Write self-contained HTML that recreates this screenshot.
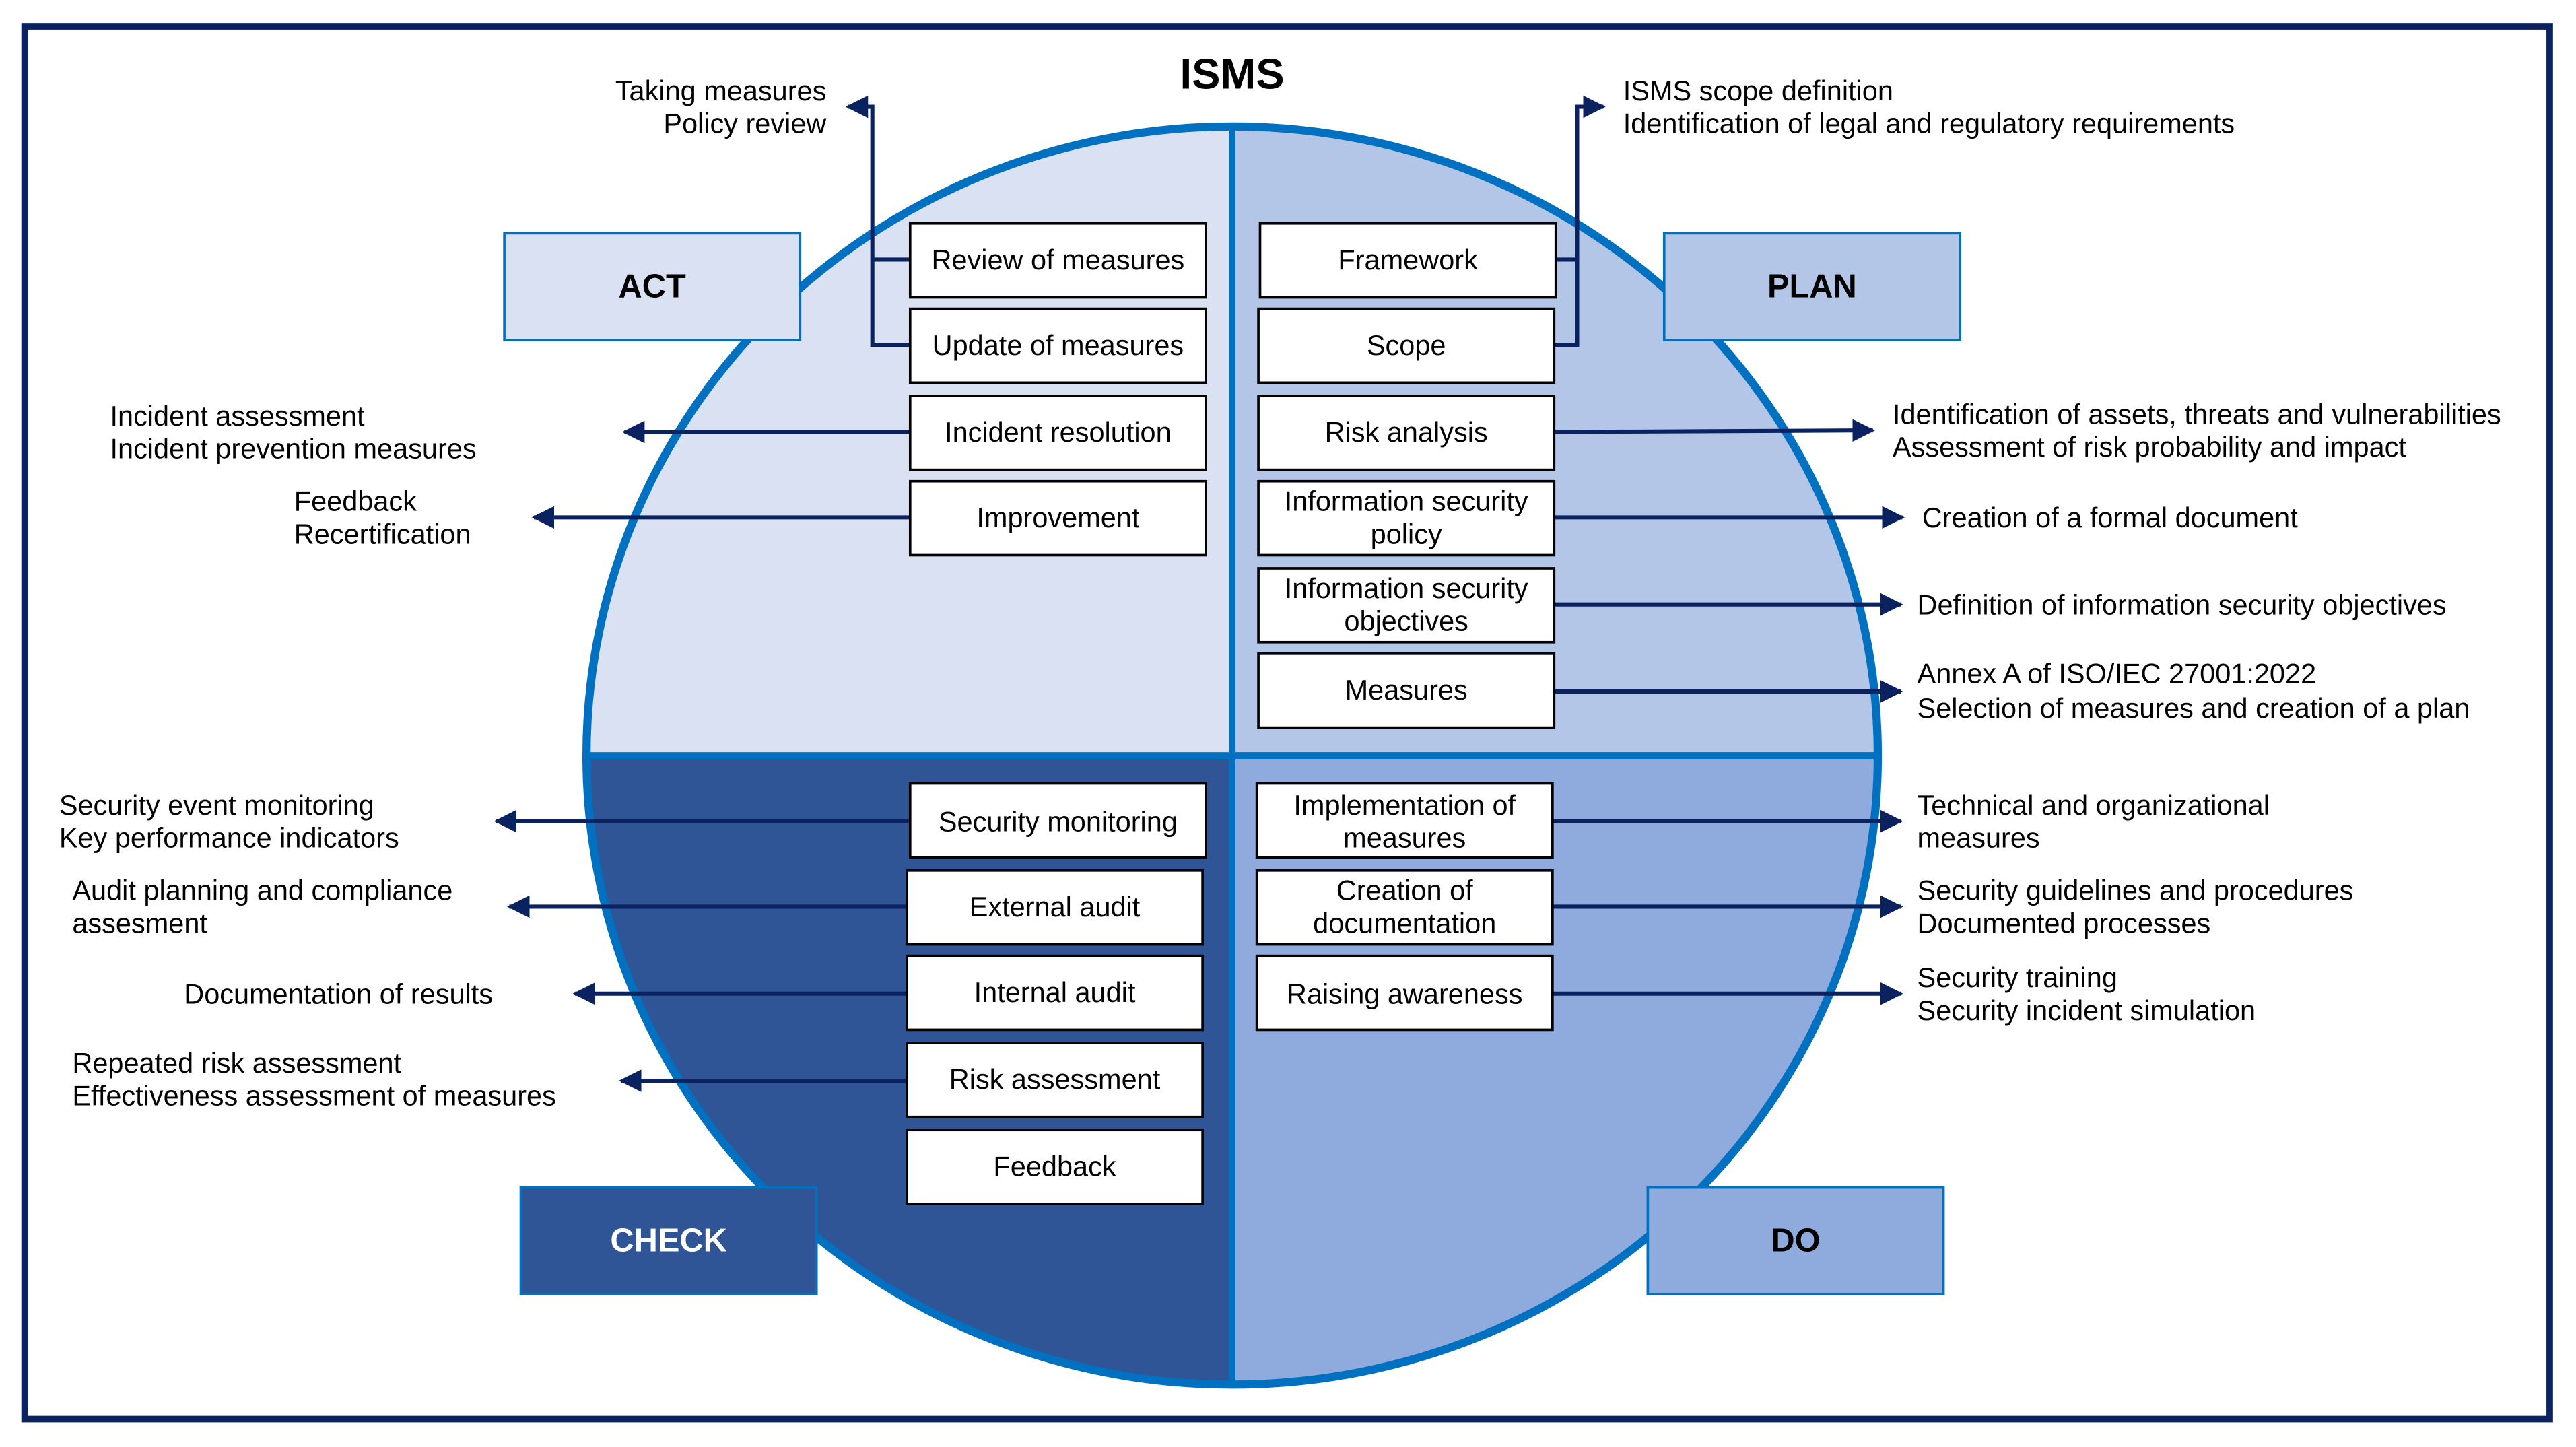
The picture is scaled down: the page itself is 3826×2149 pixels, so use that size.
<!DOCTYPE html>
<html><head><meta charset="utf-8"><style>html,body{margin:0;padding:0;background:#fff}svg{display:block}</style></head>
<body>
<svg width="3826" height="2149" viewBox="0 0 1568 881" preserveAspectRatio="none" xmlns="http://www.w3.org/2000/svg" font-family="Liberation Sans, Arial, sans-serif">
<defs>
<marker id="ar" viewBox="0 0 10 10" refX="9" refY="5" markerWidth="5.5" markerHeight="5.5" orient="auto" markerUnits="strokeWidth"><path d="M0,0 L10,5 L0,10 z" fill="#0a2360"/></marker>
<clipPath id="c"><ellipse cx="750" cy="460" rx="393" ry="383"/></clipPath>
</defs>
<rect x="0" y="0" width="1568" height="881" fill="#fff"/>
<rect x="15" y="16" width="1537" height="848" fill="none" stroke="#0a2360" stroke-width="4"/>
<g clip-path="url(#c)">
<rect x="350" y="70" width="400" height="390" fill="#dae1f3"/>
<rect x="750" y="70" width="400" height="390" fill="#b4c6e7"/>
<rect x="350" y="460" width="400" height="390" fill="#2f5597"/>
<rect x="750" y="460" width="400" height="390" fill="#8faadc"/>
</g>
<line x1="750" y1="77" x2="750" y2="843" stroke="#0070c0" stroke-width="4"/>
<line x1="357" y1="460" x2="1143" y2="460" stroke="#0070c0" stroke-width="4"/>
<ellipse cx="750" cy="460" rx="393" ry="383" fill="none" stroke="#0070c0" stroke-width="5"/>
<text x="750" y="54" font-size="26" font-weight="bold" text-anchor="middle">ISMS</text>
<g stroke="#0070c0" stroke-width="1.5">
<rect x="307" y="142" width="180" height="65" fill="#dae1f3"/>
<rect x="1013" y="142" width="180" height="65" fill="#b4c6e7"/>
<rect x="317" y="723" width="180" height="65" fill="#2f5597"/>
<rect x="1003" y="723" width="180" height="65" fill="#8faadc"/>
</g>
<g font-size="20" font-weight="bold" text-anchor="middle">
<text x="397" y="181">ACT</text>
<text x="1103" y="181">PLAN</text>
<text x="407" y="762" fill="#fff">CHECK</text>
<text x="1093" y="762">DO</text>
</g>
<g stroke="#0a2360" stroke-width="2.5" fill="none">
<polyline points="554,210 531,210 531,65 516,65" marker-end="url(#ar)"/>
<line x1="531" y1="158" x2="554" y2="158"/>
<polyline points="946,210 960,210 960,65 976,65" marker-end="url(#ar)"/>
<line x1="947" y1="158" x2="960" y2="158"/>
<line x1="554" y1="263" x2="380" y2="263" marker-end="url(#ar)"/>
<line x1="554" y1="315" x2="325" y2="315" marker-end="url(#ar)"/>
<line x1="554" y1="500" x2="302" y2="500" marker-end="url(#ar)"/>
<line x1="552" y1="552" x2="310" y2="552" marker-end="url(#ar)"/>
<line x1="552" y1="605" x2="350" y2="605" marker-end="url(#ar)"/>
<line x1="552" y1="658" x2="378" y2="658" marker-end="url(#ar)"/>
<line x1="946" y1="263" x2="1140" y2="262" marker-end="url(#ar)"/>
<line x1="946" y1="315" x2="1158" y2="315" marker-end="url(#ar)"/>
<line x1="946" y1="368" x2="1157" y2="368" marker-end="url(#ar)"/>
<line x1="946" y1="421" x2="1157" y2="421" marker-end="url(#ar)"/>
<line x1="945" y1="500" x2="1157" y2="500" marker-end="url(#ar)"/>
<line x1="945" y1="552" x2="1157" y2="552" marker-end="url(#ar)"/>
<line x1="945" y1="605" x2="1157" y2="605" marker-end="url(#ar)"/>
</g>
<g fill="#fff" stroke="#000" stroke-width="1.5">
<rect x="554" y="136" width="180" height="45"/>
<rect x="554" y="188" width="180" height="45"/>
<rect x="554" y="241" width="180" height="45"/>
<rect x="554" y="293" width="180" height="45"/>
<rect x="554" y="477" width="180" height="45"/>
<rect x="552" y="530" width="180" height="45"/>
<rect x="552" y="582" width="180" height="45"/>
<rect x="552" y="635" width="180" height="45"/>
<rect x="552" y="688" width="180" height="45"/>
<rect x="767" y="136" width="180" height="45"/>
<rect x="766" y="188" width="180" height="45"/>
<rect x="766" y="241" width="180" height="45"/>
<rect x="766" y="293" width="180" height="45"/>
<rect x="766" y="346" width="180" height="45"/>
<rect x="766" y="398" width="180" height="45"/>
<rect x="765" y="477" width="180" height="45"/>
<rect x="765" y="530" width="180" height="45"/>
<rect x="765" y="582" width="180" height="45"/>
</g>
<g font-size="17" text-anchor="middle">
<text x="644" y="164">Review of measures</text>
<text x="644" y="216">Update of measures</text>
<text x="644" y="269">Incident resolution</text>
<text x="644" y="321">Improvement</text>
<text x="644" y="506">Security monitoring</text>
<text x="642" y="558">External audit</text>
<text x="642" y="610">Internal audit</text>
<text x="642" y="663">Risk assessment</text>
<text x="642" y="716">Feedback</text>
<text x="857" y="164">Framework</text>
<text x="856" y="216">Scope</text>
<text x="856" y="269">Risk analysis</text>
<text x="856" y="311">Information security</text>
<text x="856" y="331">policy</text>
<text x="856" y="364">Information security</text>
<text x="856" y="384">objectives</text>
<text x="856" y="426">Measures</text>
<text x="855" y="496">Implementation of</text>
<text x="855" y="516">measures</text>
<text x="855" y="548">Creation of</text>
<text x="855" y="568">documentation</text>
<text x="855" y="611">Raising awareness</text>
</g>
<g font-size="17">
<text x="503" y="61" text-anchor="end">Taking measures</text>
<text x="503" y="81" text-anchor="end">Policy review</text>
<text x="988" y="61">ISMS scope definition</text>
<text x="988" y="81">Identification of legal and regulatory requirements</text>
<text x="67" y="259">Incident assessment</text>
<text x="67" y="279">Incident prevention measures</text>
<text x="179" y="311">Feedback</text>
<text x="179" y="331">Recertification</text>
<text x="36" y="496">Security event monitoring</text>
<text x="36" y="516">Key performance indicators</text>
<text x="44" y="548">Audit planning and compliance</text>
<text x="44" y="568">assesment</text>
<text x="112" y="611">Documentation of results</text>
<text x="44" y="653">Repeated risk assessment</text>
<text x="44" y="673">Effectiveness assessment of measures</text>
<text x="1152" y="258">Identification of assets, threats and vulnerabilities</text>
<text x="1152" y="278">Assessment of risk probability and impact</text>
<text x="1170" y="321">Creation of a formal document</text>
<text x="1167" y="374">Definition of information security objectives</text>
<text x="1167" y="416">Annex A of ISO/IEC 27001:2022</text>
<text x="1167" y="437">Selection of measures and creation of a plan</text>
<text x="1167" y="496">Technical and organizational</text>
<text x="1167" y="516">measures</text>
<text x="1167" y="548">Security guidelines and procedures</text>
<text x="1167" y="568">Documented processes</text>
<text x="1167" y="601">Security training</text>
<text x="1167" y="621">Security incident simulation</text>
</g>
</svg>
</body></html>
